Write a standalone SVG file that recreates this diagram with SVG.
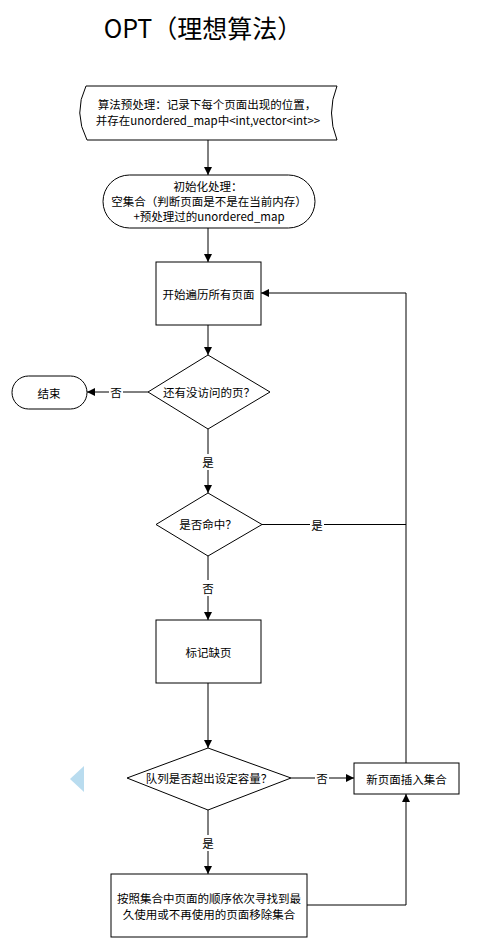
<svg xmlns="http://www.w3.org/2000/svg" width="486" height="947" viewBox="0 0 486 947">
<defs>
<marker id="arr" viewBox="0 0 10 10" refX="10" refY="5" markerWidth="8" markerHeight="8" markerUnits="userSpaceOnUse" orient="auto">
<path d="M0,0 L10,5 L0,10 z" fill="#000"/>
</marker>
<style>
.s{fill:#fff;stroke:#000;stroke-width:1}
.t{font-family:"Noto Sans CJK SC","Noto Sans",sans-serif;font-size:11.5px;fill:#000;text-anchor:middle;dominant-baseline:central}
.c{fill:none;stroke:#000;stroke-width:1}
.lb{fill:#fff}
</style>
</defs>
<rect width="486" height="947" fill="#fff"/>
<text x="203" y="27" font-family="'Noto Sans CJK SC','Noto Sans',sans-serif" font-size="25" text-anchor="middle" dominant-baseline="central">OPT（理想算法）</text>

<g id="connectors">
<line class="c" x1="208" y1="140" x2="208" y2="175" marker-end="url(#arr)"/>
<line class="c" x1="208" y1="228" x2="208" y2="262" marker-end="url(#arr)"/>
<line class="c" x1="208" y1="325" x2="208" y2="355" marker-end="url(#arr)"/>
<line class="c" x1="148" y1="392" x2="87" y2="392" marker-end="url(#arr)"/>
<rect class="lb" x="109" y="384" width="14" height="16"/>
<text class="t" x="116" y="392">否</text>
<line class="c" x1="208" y1="429" x2="208" y2="493" marker-end="url(#arr)"/>
<rect class="lb" x="201" y="454" width="14" height="16"/>
<text class="t" x="208" y="462">是</text>
<polyline class="c" points="262,524.5 406,524.5"/>
<rect class="lb" x="310" y="517" width="14" height="16"/>
<text class="t" x="317" y="525">是</text>
<polyline class="c" points="406,763 406,293 261,293" marker-end="url(#arr)"/>
<line class="c" x1="208" y1="556" x2="208" y2="620" marker-end="url(#arr)"/>
<rect class="lb" x="201" y="580" width="14" height="16"/>
<text class="t" x="208" y="588">否</text>
<line class="c" x1="208" y1="683" x2="208" y2="748" marker-end="url(#arr)"/>
<line class="c" x1="291" y1="778" x2="354" y2="778" marker-end="url(#arr)"/>
<rect class="lb" x="315" y="770" width="14" height="16"/>
<text class="t" x="322" y="778">否</text>
<line class="c" x1="208" y1="810" x2="208" y2="874" marker-end="url(#arr)"/>
<rect class="lb" x="201" y="835" width="14" height="16"/>
<text class="t" x="208" y="843">是</text>
<polyline class="c" points="307,905 406,905 406,794" marker-end="url(#arr)"/>
</g>

<g id="preprocess">
<path class="s" d="M86,86 L337,86 Q326,113 337,140 L87,140 Q73,113 86,86 z"/>
<text class="t" x="207" y="104">算法预处理：记录下每个页面出现的位置，</text>
<text class="t" x="208" y="120">并存在unordered_map中&lt;int,vector&lt;int&gt;&gt;</text>
</g>

<g id="init">
<rect class="s" x="103" y="175" width="212" height="53" rx="26.5" ry="26.5"/>
<text class="t" x="208" y="186">初始化处理：</text>
<text class="t" x="209" y="201">空集合（判断页面是不是在当前内存）</text>
<text class="t" x="209" y="216">+预处理过的unordered_map</text>
</g>

<g id="traverse">
<rect class="s" x="156" y="262" width="105" height="63"/>
<text class="t" x="208.5" y="293.5">开始遍历所有页面</text>
</g>

<g id="hasUnvisited">
<polygon class="s" points="208,355 270,392 208,429 148,392"/>
<text class="t" x="209" y="392">还有没访问的页？</text>
</g>

<g id="end">
<rect class="s" x="12" y="376" width="75" height="33" rx="16.5" ry="16.5"/>
<text class="t" x="49" y="392.5">结束</text>
</g>

<g id="hit">
<polygon class="s" points="208,493 262,524.5 208,556 156,524.5"/>
<text class="t" x="208" y="524">是否命中？</text>
</g>

<g id="markFault">
<rect class="s" x="156" y="620" width="105" height="63"/>
<text class="t" x="208.5" y="651.5">标记缺页</text>
</g>

<g id="capacity">
<polygon class="s" points="208,748 291,778 208,810 127,778"/>
<text class="t" x="209" y="778">队列是否超出设定容量？</text>
</g>

<g id="insert">
<rect class="s" x="354" y="763" width="105" height="31"/>
<text class="t" x="406.5" y="778.5">新页面插入集合</text>
</g>

<g id="evict">
<rect class="s" x="111" y="874" width="196" height="63"/>
<text class="t" x="209" y="898">按照集合中页面的顺序依次寻找到最</text>
<text class="t" x="209" y="914">久使用或不再使用的页面移除集合</text>
</g>

<polygon points="70,779 84,766 84,792" fill="#b9dcef"/>
</svg>
